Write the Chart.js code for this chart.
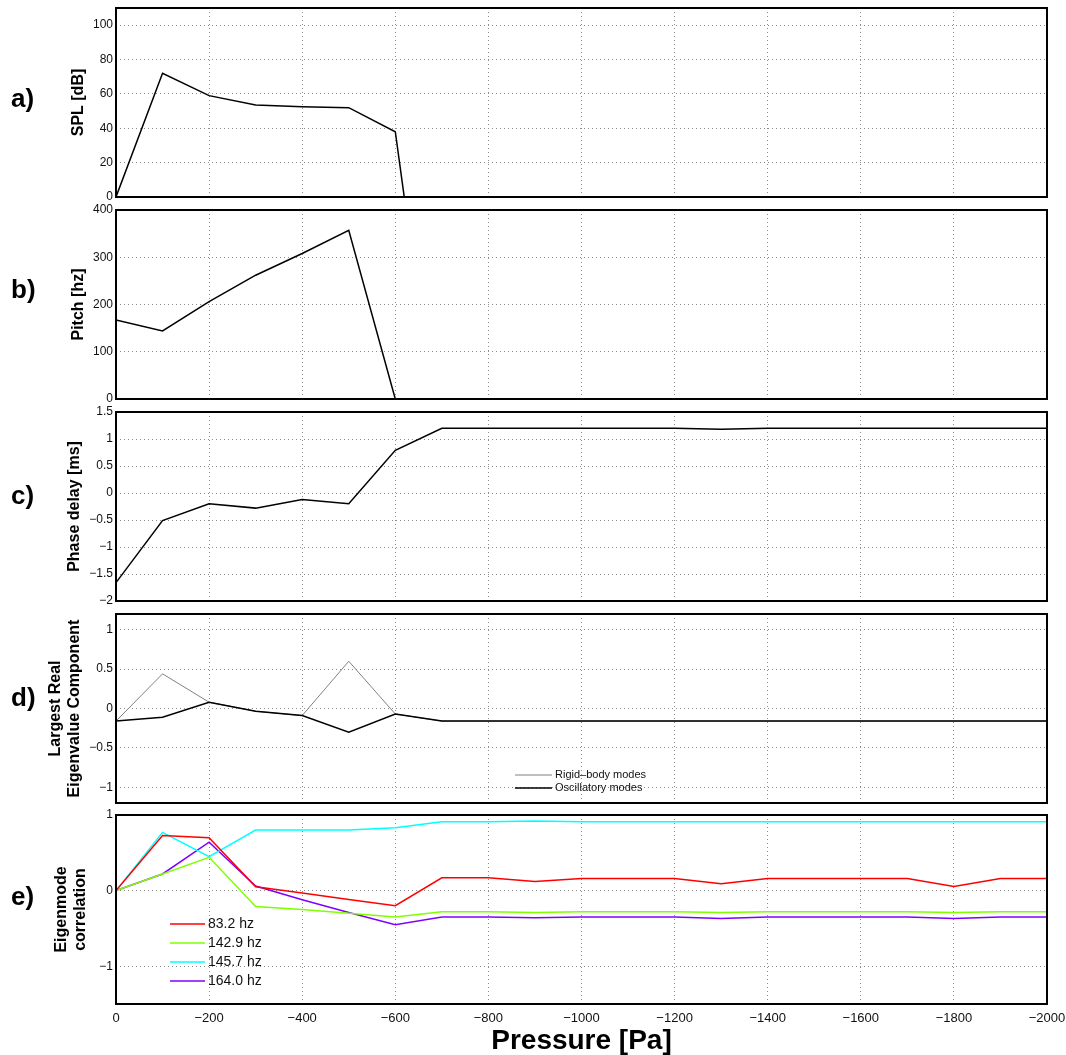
<!DOCTYPE html>
<html lang="en">
<head>
<meta charset="UTF-8" />
<title>Pressure sweep</title>
<script src="https://cdn.jsdelivr.net/npm/chart.js"></script>
<style>
  html, body { margin: 0; padding: 0; background: #fff; }
  #page { position: relative; width: 1066px; height: 1055px; overflow: hidden; }
  #page canvas { position: absolute; left: 0; }
</style>
</head>
<body>
<div id="page">
  <canvas id="splChart" width="1066" height="205" style="top:0px"></canvas>
  <canvas id="pitchChart" width="1066" height="205" style="top:202px"></canvas>
  <canvas id="phaseChart" width="1066" height="205" style="top:404px"></canvas>
  <canvas id="eigChart" width="1066" height="205" style="top:606px"></canvas>
  <canvas id="corrChart" width="1066" height="248" style="top:807px"></canvas>
</div>
<script>
// pressure steps (Pa)
const pressure = [0, -100, -200, -300, -400, -500, -600, -700, -800, -900, -1000,
  -1100, -1200, -1300, -1400, -1500, -1600, -1700, -1800, -1900, -2000];
const pressureTicks = [0, -200, -400, -600, -800, -1000, -1200, -1400, -1600, -1800, -2000];

// a) SPL [dB] -- drops off the bottom after -600
const splDb = [0, 72, 59, 53.5, 52.5, 52, 38, -160, -160, -160, -160,
  -160, -160, -160, -160, -160, -160, -160, -160, -160, -160];
const splTicks = [0, 20, 40, 60, 80, 100];

// b) Pitch [hz]
const pitchHz = [167, 144, 206, 262, 308, 357, 0, 0, 0, 0, 0,
  0, 0, 0, 0, 0, 0, 0, 0, 0, 0];
const pitchTicks = [0, 100, 200, 300, 400];

// c) Phase delay [ms]
const phaseMs = [-1.66, -0.51, -0.2, -0.28, -0.12, -0.2, 0.79, 1.2, 1.2, 1.2, 1.2,
  1.2, 1.2, 1.18, 1.2, 1.2, 1.2, 1.2, 1.2, 1.2, 1.2];
const phaseTicks = [-2, -1.5, -1, -0.5, 0, 0.5, 1, 1.5];

// d) largest real eigenvalue component
const rigidBody = [-0.16, 0.44, 0.08, -0.035, -0.09, 0.6, -0.07, -0.16, -0.16, -0.16, -0.16,
  -0.16, -0.16, -0.16, -0.16, -0.16, -0.16, -0.16, -0.16, -0.16, -0.16];
const oscillatory = [-0.16, -0.11, 0.08, -0.035, -0.09, -0.3, -0.07, -0.16, -0.16, -0.16, -0.16,
  -0.16, -0.16, -0.16, -0.16, -0.16, -0.16, -0.16, -0.16, -0.16, -0.16];
const eigTicks = [-1, -0.5, 0, 0.5, 1];

// e) eigenmode correlation
const modeLabels = ['83.2 hz', '142.9 hz', '145.7 hz', '164.0 hz'];
const corr83 = [0, 0.73, 0.70, 0.05, -0.033, -0.117, -0.2, 0.17, 0.17, 0.12, 0.16,
  0.16, 0.16, 0.09, 0.16, 0.16, 0.16, 0.16, 0.056, 0.16, 0.16];
const corr143 = [0, 0.22, 0.44, -0.21, -0.25, -0.3, -0.35, -0.28, -0.28, -0.29, -0.28,
  -0.28, -0.28, -0.29, -0.28, -0.28, -0.28, -0.28, -0.29, -0.28, -0.28];
const corr146 = [0, 0.77, 0.45, 0.80, 0.80, 0.80, 0.83, 0.91, 0.91, 0.92, 0.91,
  0.91, 0.91, 0.91, 0.91, 0.91, 0.91, 0.91, 0.91, 0.91, 0.91];
const corr164 = [0, 0.22, 0.64, 0.06, -0.12, -0.29, -0.45, -0.35, -0.35, -0.36, -0.35,
  -0.35, -0.35, -0.37, -0.35, -0.35, -0.35, -0.35, -0.37, -0.35, -0.35];
const corrTicks = [-1, 0, 1];

const FONT = '"Liberation Sans", Arial, Helvetica, sans-serif';
Chart.defaults.font.family = FONT;
Chart.defaults.color = '#000';

const fmt = v => (v < 0 ? '\u2212' + Math.abs(v) : String(v));
const pts = ys => pressure.map((p, i) => ({ x: p, y: ys[i] }));

// black frame around the plot area
const framePlugin = {
  id: 'frame',
  afterDraw(chart) {
    const { ctx, chartArea: a } = chart;
    ctx.save();
    ctx.strokeStyle = '#000';
    ctx.lineWidth = 2;
    ctx.strokeRect(a.left, a.top, a.right - a.left, a.bottom - a.top);
    ctx.restore();
  }
};

// "a)", "b)" ... on the far left
const panelLabel = {
  id: 'panelLabel',
  afterDraw(chart, args, opts) {
    if (!opts.text) return;
    const ctx = chart.ctx;
    ctx.save();
    ctx.font = 'bold 26px ' + FONT;
    ctx.fillStyle = '#000';
    ctx.textAlign = 'left';
    ctx.textBaseline = 'middle';
    ctx.fillText(opts.text, 11, opts.y);
    ctx.restore();
  }
};

// small line legend placed inside the plot
const lineLegend = {
  id: 'lineLegend',
  afterDatasetsDraw(chart, args, opts) {
    if (!opts.rows) return;
    const ctx = chart.ctx;
    ctx.save();
    ctx.font = opts.size + 'px ' + FONT;
    ctx.textAlign = 'left';
    ctx.textBaseline = 'middle';
    opts.rows.forEach((di, i) => {
      const ds = chart.data.datasets[di];
      const y = opts.y + i * opts.dy;
      ctx.strokeStyle = ds.borderColor;
      ctx.lineWidth = ds.borderWidth;
      ctx.beginPath();
      ctx.moveTo(opts.x0, y);
      ctx.lineTo(opts.x1, y);
      ctx.stroke();
      ctx.fillStyle = '#111';
      ctx.fillText(ds.label, opts.x1 + 3, y);
    });
    ctx.restore();
  }
};

const gridOpts = { color: '#8c8c8c', lineWidth: 1, drawTicks: false };
const borderOpts = { display: false, dash: [1, 3] };

function xScale(bottom) {
  return {
    type: 'linear', min: -2000, max: 0, reverse: true,
    afterBuildTicks: s => { s.ticks = pressureTicks.map(v => ({ value: v })); },
    ticks: { display: bottom, maxRotation: 0, autoSkip: false, padding: 7, color: '#111', font: { size: 13 }, callback: fmt },
    grid: gridOpts,
    border: borderOpts,
    title: bottom
      ? { display: true, text: 'Pressure [Pa]', color: '#000', font: { size: 28, weight: 'bold', lineHeight: 1.0 }, padding: { top: 0, bottom: 0 } }
      : { display: false },
    afterFit: s => { s.height = bottom ? 51 : 0; s.paddingLeft = 0; s.paddingRight = 0; }
  };
}

function yScale(min, max, tickList, title, titlePad) {
  return {
    min, max,
    afterBuildTicks: s => { s.ticks = tickList.map(v => ({ value: v })); },
    ticks: { padding: 3, color: '#111', font: { size: 12 }, autoSkip: false, callback: fmt },
    grid: gridOpts,
    border: borderOpts,
    title: { display: true, text: title, color: '#000', font: { size: 16, weight: 'bold' }, padding: { top: titlePad, bottom: 0 } },
    afterFit: s => { s.width = 116; s.paddingTop = 0; s.paddingBottom = 0; }
  };
}

function line(label, ys, color, width) {
  return { label, data: pts(ys), borderColor: color, borderWidth: width, pointRadius: 0, tension: 0, fill: false };
}

function makeChart(id, datasets, y, bottom, plugOpts) {
  return new Chart(document.getElementById(id), {
    type: 'line',
    data: { datasets },
    options: {
      responsive: false,
      animation: false,
      events: [],
      layout: { padding: { left: 0, right: 19, top: 8, bottom: bottom ? 0 : 8 } },
      scales: { x: xScale(bottom), y },
      plugins: Object.assign({ legend: { display: false }, tooltip: { enabled: false } }, plugOpts)
    },
    plugins: [framePlugin, panelLabel, lineLegend]
  });
}

makeChart('splChart', [line('SPL', splDb, '#000', 1.5)],
  yScale(0, 110, splTicks, 'SPL [dB]', 69), false,
  { panelLabel: { text: 'a)', y: 100 } });

makeChart('pitchChart', [line('Pitch', pitchHz, '#000', 1.5)],
  yScale(0, 400, pitchTicks, 'Pitch [hz]', 69), false,
  { panelLabel: { text: 'b)', y: 89 } });

makeChart('phaseChart', [line('Phase delay', phaseMs, '#000', 1.5)],
  yScale(-2, 1.5, phaseTicks, 'Phase delay [ms]', 65), false,
  { panelLabel: { text: 'c)', y: 93 } });

const eigSets = [
  Object.assign(line('Rigid\u2013body modes', rigidBody, '#808080', 1), { order: 1 }),
  Object.assign(line('Oscillatory modes', oscillatory, '#000', 1.5), { order: 0 })
];
makeChart('eigChart', eigSets,
  yScale(-1.2, 1.2, eigTicks, ['Largest Real', 'Eigenvalue Component'], 46), false,
  { panelLabel: { text: 'd)', y: 93 }, lineLegend: { rows: [0, 1], x0: 515, x1: 552, y: 169, dy: 13, size: 11 } });

makeChart('corrChart', [
  line(modeLabels[0], corr83, '#ff0000', 1.5),
  line(modeLabels[1], corr143, '#80ff00', 1.5),
  line(modeLabels[2], corr146, '#00ffff', 1.5),
  line(modeLabels[3], corr164, '#8000ff', 1.5)
], yScale(-1.5, 1, corrTicks, ['Eigenmode', 'correlation'], 52), true,
  { panelLabel: { text: 'e)', y: 91 }, lineLegend: { rows: [0, 1, 2, 3], x0: 170, x1: 205, y: 117, dy: 19, size: 14 } });
</script>
</body>
</html>
